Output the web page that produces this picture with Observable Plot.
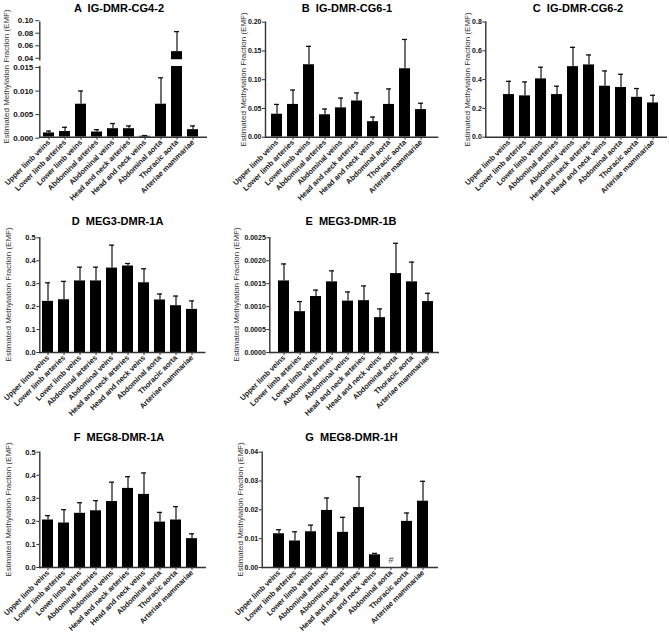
<!DOCTYPE html>
<html>
<head>
<meta charset="utf-8">
<script src="https://cdn.jsdelivr.net/npm/d3@7"></script>
<script src="https://cdn.jsdelivr.net/npm/@observablehq/plot@0.6"></script>
<style>
  body { margin: 0; background: white; }
  #chart { position: relative; width: 669px; height: 633px; background: white; overflow: hidden;
           font-family: "Liberation Sans", Arial, sans-serif; }
  .ttl { position: absolute; font-weight: bold; font-size: 11px; line-height: 12px; color: #000;
         white-space: pre; transform: translateX(-50%); }
  .ylab { position: absolute; width: 200px; text-align: center; font-size: 8px; line-height: 9px;
          color: #333; transform: rotate(-90deg); transform-origin: 100px 4.5px; white-space: nowrap; }
  .plotbox { position: absolute; }
  .plotbox svg { overflow: visible; max-width: none; }
</style>
</head>
<body>
<div id="chart"></div>
<script>
// ---------- data ----------
const categories = ["Upper limb veins", "Lower limb arteries", "Lower limb veins", "Abdominal arteries",
  "Abdominal veins", "Head and neck arteries", "Head and neck veins", "Abdominal aorta",
  "Thoracic aorta", "Arteriae mammariae"];

// A IG-DMR-CG4-2 (mean, SEM)
const meanA = [0.0009, 0.0012, 0.0070, 0.0011, 0.0018, 0.0018, 0.0002, 0.0070, 0.053, 0.0016];
const errA  = [0.0004, 0.0009, 0.0028, 0.0005, 0.0011, 0.0006, 0.00015, 0.0056, 0.032, 0.0008];
// B IG-DMR-CG6-1
const meanB = [0.040, 0.057, 0.126, 0.039, 0.051, 0.063, 0.027, 0.057, 0.119, 0.048];
const errB  = [0.017, 0.025, 0.032, 0.010, 0.017, 0.014, 0.008, 0.027, 0.051, 0.011];
// C IG-DMR-CG6-2
const meanC = [0.296, 0.287, 0.405, 0.296, 0.490, 0.502, 0.354, 0.345, 0.277, 0.238];
const errC  = [0.092, 0.097, 0.081, 0.058, 0.134, 0.069, 0.106, 0.092, 0.061, 0.053];
// D MEG3-DMR-1A
const meanD = [0.223, 0.230, 0.312, 0.312, 0.368, 0.377, 0.304, 0.229, 0.204, 0.188];
const errD  = [0.081, 0.080, 0.060, 0.060, 0.100, 0.011, 0.061, 0.026, 0.042, 0.037];
// E MEG3-DMR-1B
const meanE = [0.00156, 0.00089, 0.00122, 0.00154, 0.00112, 0.00113, 0.00076, 0.00172, 0.00154, 0.00111];
const errE  = [0.00037, 0.00022, 0.00014, 0.00024, 0.00020, 0.00032, 0.00019, 0.00066, 0.00043, 0.00018];
// F MEG8-DMR-1A
const meanF = [0.206, 0.193, 0.235, 0.246, 0.286, 0.343, 0.317, 0.197, 0.206, 0.125];
const errF  = [0.019, 0.058, 0.046, 0.044, 0.084, 0.051, 0.093, 0.042, 0.058, 0.021];
// G MEG8-DMR-1H (Abdominal aorta not available: "#")
const meanG = [0.0117, 0.0092, 0.0124, 0.0198, 0.0122, 0.0208, 0.0044, null, 0.0160, 0.0230];
const errG  = [0.0014, 0.0032, 0.0023, 0.0043, 0.0052, 0.0107, 0.0005, null, 0.0029, 0.0069];
const notesG = [{category: "Abdominal aorta", note: "#"}];

// tick labels
const ticksAUpper = [0.04, 0.06, 0.08, 0.10];
const ticksALower = [0, 0.005, 0.010, 0.015];
const ticksB = [0, 0.05, 0.10, 0.15, 0.20];
const ticksC = [0, 0.2, 0.4, 0.6, 0.8];
const ticksD = [0, 0.1, 0.2, 0.3, 0.4, 0.5];
const ticksE = [0, 0.0005, 0.0010, 0.0015, 0.0020, 0.0025];
const ticksF = [0, 0.1, 0.2, 0.3, 0.4, 0.5];
const ticksG = [0, 0.01, 0.02, 0.03, 0.04];

const titles = ["A  IG-DMR-CG4-2", "B  IG-DMR-CG6-1", "C  IG-DMR-CG6-2", "D  MEG3-DMR-1A",
  "E  MEG3-DMR-1B", "F  MEG8-DMR-1A", "G  MEG8-DMR-1H"];
const yTitle = "Estimated Methylation Fraction (EMF)";

// ---------- drawing ----------
const chart = document.getElementById("chart");
const FONT = "'Liberation Sans', Arial, sans-serif";

function rowsOf(means, errs) {
  return categories.map((c, i) => ({category: c, mean: means[i], err: errs[i]}))
    .filter(d => d.mean != null);
}

function panel(o) {
  const data = rowsOf(o.means, o.errs);
  const W = o.width, H = o.height;
  const tf = o.tickFont || 7;
  const marks = [
    Plot.barY(data, {x: "category", y1: 0, y2: "mean", fill: "#000", clip: true}),
    Plot.ruleX(data, {x: "category", y1: "mean", y2: d => d.mean + d.err, stroke: "#111", strokeWidth: 1.2, clip: true}),
    Plot.tickY(data.filter(d => d.mean + d.err <= o.domain[1] && d.mean + d.err >= o.domain[0]),
      {x: "category", y: d => d.mean + d.err, stroke: "#111", strokeWidth: 1.3, insetLeft: 3, insetRight: 3}),
    Plot.frame({anchor: "left", stroke: "#333", strokeWidth: 1.4}),
    Plot.axisY({ticks: o.ticks, tickFormat: d3.format(o.fmt), tickSize: o.tickSize || 3, tickPadding: o.tickPad || 1,
      fontSize: tf, fontWeight: "bold", label: null, stroke: "#333", fill: "#111", dy: o.labelDy || 0})
  ];
  if (o.showX) {
    marks.push(Plot.ruleY([o.domain[0]], {stroke: "#333", strokeWidth: 1.4}));
    marks.push(Plot.axisX({tickRotate: -45, tickSize: 3, tickPadding: 1, fontSize: 7.5,
      fontWeight: "bold", label: null, stroke: "#333", fill: "#222"}));
  } else {
    marks.push(Plot.axisX({ticks: [], label: null}));
  }
  if (o.notes) {
    marks.push(Plot.text(o.notes, {x: "category", y: () => o.domain[0], text: "note", dy: -7,
      fontSize: 9, fill: "#444"}));
  }
  const svg = Plot.plot({
    width: W, height: H,
    marginLeft: o.axisX - o.colX,
    marginRight: W - (o.xEnd - o.colX),
    marginTop: o.top - o.rowY,
    marginBottom: H - (o.bottom - o.rowY),
    style: {background: "transparent", fontFamily: FONT, overflow: "visible"},
    x: {type: "band", domain: categories, range: [o.barStart - o.colX, o.barEnd - o.colX],
        paddingInner: 0.33, paddingOuter: 0, align: 0.5},
    y: {domain: o.domain},
    marks
  });
  const box = document.createElement("div");
  box.className = "plotbox";
  box.style.left = o.colX + "px";
  box.style.top = o.rowY + "px";
  box.appendChild(svg);
  chart.appendChild(box);
}

function addTitle(text, cx, top) {
  const d = document.createElement("div");
  d.className = "ttl"; d.textContent = text;
  d.style.left = cx + "px"; d.style.top = top + "px";
  chart.appendChild(d);
}
function addYLabel(cx, cy) {
  const d = document.createElement("div");
  d.className = "ylab"; d.textContent = yTitle;
  d.style.left = (cx - 100) + "px"; d.style.top = (cy - 4.5) + "px";
  chart.appendChild(d);
}

// Panel A (broken axis: upper 0.04-0.10, lower 0-0.015)
panel({means: meanA, errs: errA, domain: [0.04, 0.10], ticks: ticksAUpper, fmt: ".2f",
  colX: 0, rowY: 0, width: 225, height: 62, axisX: 39.3, barStart: 39.3, barEnd: 201, xEnd: 207,
  top: 21.7, bottom: 59.3, showX: false, tickFont: 8, tickSize: 4, tickPad: 2.5, labelDy: -1.5});
panel({means: meanA, errs: errA, domain: [0, 0.015], ticks: ticksALower, fmt: ".3f",
  colX: 0, rowY: 0, width: 225, height: 212, axisX: 39.3, barStart: 39.3, barEnd: 201, xEnd: 207,
  top: 66, bottom: 136.7, showX: true, tickFont: 8, tickSize: 4, tickPad: 2.5, labelDy: 1});
// Panel B
panel({means: meanB, errs: errB, domain: [0, 0.20], ticks: ticksB, fmt: ".2f",
  colX: 220, rowY: 0, width: 225, height: 212, axisX: 265, barStart: 270, barEnd: 427.3, xEnd: 438.3,
  top: 21.7, bottom: 136.7, showX: true});
// Panel C
panel({means: meanC, errs: errC, domain: [0, 0.8], ticks: ticksC, fmt: ".1f",
  colX: 440, rowY: 0, width: 229, height: 212, axisX: 485.3, barStart: 499.7, barEnd: 661.3, xEnd: 667,
  top: 21.5, bottom: 136.7, showX: true});
// Panel D
panel({means: meanD, errs: errD, domain: [0, 0.5], ticks: ticksD, fmt: ".1f",
  colX: 0, rowY: 205, width: 225, height: 212, axisX: 39.3, barStart: 39.3, barEnd: 200, xEnd: 205.5,
  top: 237.3, bottom: 352, showX: true, tickFont: 7.5});
// Panel E
panel({means: meanE, errs: errE, domain: [0, 0.0025], ticks: ticksE, fmt: ".4f",
  colX: 220, rowY: 205, width: 225, height: 212, axisX: 269.3, barStart: 275, barEnd: 436, xEnd: 439,
  top: 237.3, bottom: 352, showX: true});
// Panel F
panel({means: meanF, errs: errF, domain: [0, 0.5], ticks: ticksF, fmt: ".1f",
  colX: 0, rowY: 420, width: 225, height: 213, axisX: 39.3, barStart: 39.3, barEnd: 200, xEnd: 206,
  top: 451.7, bottom: 567, showX: true, tickFont: 7.5});
// Panel G
panel({means: meanG, errs: errG, domain: [0, 0.04], ticks: ticksG, fmt: ".2f", notes: notesG,
  colX: 220, rowY: 420, width: 225, height: 213, axisX: 261.7, barStart: 270, barEnd: 431, xEnd: 438,
  top: 451.7, bottom: 567, showX: true});

// titles
addTitle(titles[0], 119, 1.5);
addTitle(titles[1], 347, 1.5);
addTitle(titles[2], 578, 1.5);
addTitle(titles[3], 117.5, 215);
addTitle(titles[4], 351, 215);
addTitle(titles[5], 119, 431);
addTitle(titles[6], 351.5, 431);

// y-axis titles
addYLabel(5.5, 76);
addYLabel(242.5, 79);
addYLabel(467, 79);
addYLabel(8, 294);
addYLabel(236, 294);
addYLabel(8, 509);
addYLabel(239.5, 509);
</script>
</body>
</html>
